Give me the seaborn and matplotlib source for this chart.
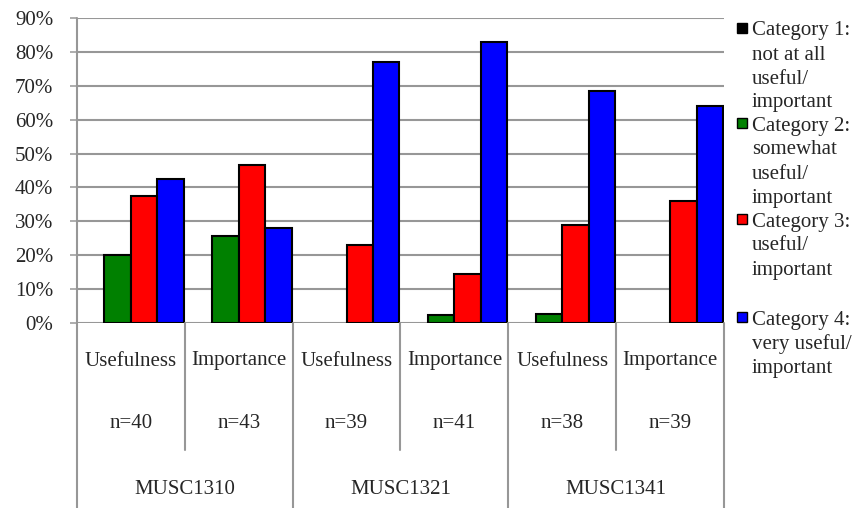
import numpy as np
import pandas as pd
import seaborn as sns
import matplotlib.pyplot as plt
from matplotlib.patches import Rectangle
from matplotlib.ticker import PercentFormatter
from matplotlib.transforms import blended_transform_factory

# data
courses = ['MUSC1310', 'MUSC1321', 'MUSC1341']
measures = ['Usefulness', 'Importance']
sample_sizes = [40, 43, 39, 41, 38, 39]
categories = ['Category 1', 'Category 2', 'Category 3', 'Category 4']
legend_labels = [
    'Category 1:\nnot at all\nuseful/\nimportant',
    'Category 2:\nsomewhat\nuseful/\nimportant',
    'Category 3:\nuseful/\nimportant',
    'Category 4:\nvery useful/\nimportant',
]
cat1 = [0.0, 0.0, 0.0, 0.0, 0.0, 0.0]
cat2 = [0.200, 0.256, 0.0, 0.024, 0.026, 0.0]
cat3 = [0.375, 0.465, 0.231, 0.146, 0.289, 0.359]
cat4 = [0.425, 0.279, 0.769, 0.829, 0.684, 0.641]
colors = ['#000000', '#008000', '#ff0000', '#0000ff']
grid_color = '#979797'

bars = [c + ' ' + m for c in courses for m in measures]
rows = []
for cat, vals in zip(categories, [cat1, cat2, cat3, cat4]):
    for b, v in zip(bars, vals):
        rows.append({'bar': b, 'category': cat, 'value': v})
df = pd.DataFrame(rows)

sns.set_style('white')
plt.rcParams['font.family'] = ['Liberation Serif', 'DejaVu Serif']

W, H = 854, 508
fig = plt.figure(figsize=(W / 100, H / 100), dpi=100)
ax = fig.add_axes([77 / W, 1 - 323 / H, (724 - 77) / W, (323 - 18) / H])

sns.barplot(data=df, x='bar', y='value', hue='category', order=bars,
            hue_order=categories, palette=colors, saturation=1, width=0.98,
            edgecolor='black', linewidth=1.5, legend=False, ax=ax)

# zero-height bars are not drawn in the original
for p in ax.patches:
    if p.get_height() == 0:
        p.set_visible(False)

ax.set_xlim(-0.5, 5.5)
ax.set_ylim(0, 0.9)
ax.set_yticks(np.arange(0, 0.91, 0.1))
ax.yaxis.set_major_formatter(PercentFormatter(1.0, decimals=0))
ax.set_xticks([])
ax.set_xlabel('')
ax.set_ylabel('')
ax.set_axisbelow(True)
ax.yaxis.grid(True, color=grid_color, lw=1.5)
ax.tick_params(axis='y', length=5, width=1.1, color=grid_color, pad=12,
               labelsize=15, left=True)
for s in ax.spines.values():
    s.set_visible(False)

# category table under the axis
trans = blended_transform_factory(ax.transData, fig.transFigure)
for i, b in enumerate(bars):
    ax.text(i, 1 - 361 / H, measures[i % 2], ha='center', va='center',
            transform=trans, fontsize=15)
    ax.text(i, 1 - 423 / H, f'n={sample_sizes[i]}', ha='center', va='center',
            transform=trans, fontsize=15)
for j, c in enumerate(courses):
    ax.text(2 * j + 0.5, 1 - 490 / H, c, ha='center', va='center',
            transform=trans, fontsize=15)
for k, x in enumerate(np.arange(-0.5, 6, 1.0)):
    bottom = 0 if k % 2 == 0 else 1 - 450 / H
    top = 1 - 18 / H if k == 0 else 1 - 323 / H
    ax.plot([x, x], [bottom, top], transform=trans, color=grid_color,
            lw=1.5, clip_on=False)

# legend on the right
first_line = [31, 126, 222, 320]
for y0, lab, col in zip(first_line, legend_labels, colors):
    for n, line in enumerate(lab.split('\n')):
        fig.text(752 / W, 1 - (y0 + 24 * n) / H, line, ha='left',
                 va='center', fontsize=15)
    fig.add_artist(Rectangle((737 / W, 1 - (y0 + 2) / H), 10 / W, 10 / H,
                             transform=fig.transFigure, facecolor=col,
                             edgecolor='black', lw=1))

fig.savefig('out.png', dpi=100)
